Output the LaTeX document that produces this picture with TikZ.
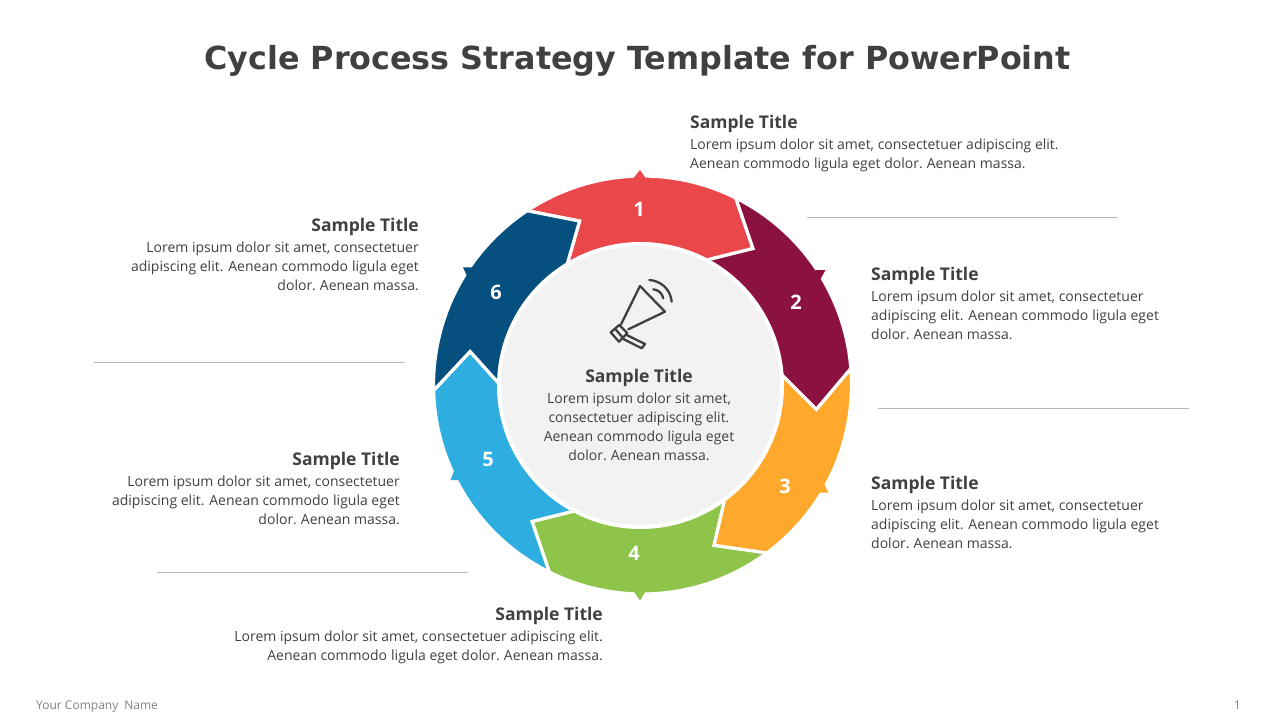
\documentclass[tikz,border=0pt]{standalone}
\usepackage{fontspec}
\setmainfont{Open Sans}
\newfontfamily\headfont{DejaVu Sans}
\definecolor{ink}{HTML}{404040}
\definecolor{segred}{HTML}{E9474A}
\definecolor{segwine}{HTML}{8B1240}
\definecolor{segorange}{HTML}{FFA92C}
\definecolor{seggreen}{HTML}{8DC449}
\definecolor{segblue}{HTML}{2EAEE0}
\definecolor{segnavy}{HTML}{05507F}
\newcommand\gp{\hspace{4pt}}
\newcommand\seg[3]{
    \begin{scope}[shift={(642.5,-385)}]
        \draw[segment,fill=#3] (63.5+#1:209) arc (63.5+#1:63.5+#2:209) -- (51+#2:175.6) -- (63.5+#2:139) arc (63.5+#2:63.5+#1:139) -- (51+#1:175.6) -- cycle;
    \end{scope}
}
\newcommand\tipmark[2]{
    \fill[#1] #2 -- cycle;
}
\begin{document}
\begin{tikzpicture}[
    x=1pt,y=1pt,
    segment/.style={draw=white,line width=3.2pt,line join=miter},
    number/.style={text=white,font=\fontsize{20}{24}\selectfont\bfseries},
    hub/.style={circle,fill=black!5,draw=white,line width=4pt,minimum size=283pt,inner sep=0},
    head/.style={text=ink,font=\fontsize{17.5}{22}\selectfont\bfseries,inner sep=0},
    body/.style={text=ink,font=\fontsize{14}{19}\selectfont,inner sep=0},
    rule/.style={draw=black!28,line width=0.8pt},
    icon/.style={draw=ink,line width=2.3pt,line join=round,line cap=round}
  ]
  \useasboundingbox (0,0) rectangle (1280,-720);

  % Title
  \node[text=ink,font=\fontsize{31.8}{40}\selectfont\headfont\bfseries,inner sep=0] (title) at (637.5,-61) {Cycle Process Strategy Template for PowerPoint};

  % Ring segments
  \seg{60}{0}{segred}
  \seg{0}{-59}{segwine}
  \seg{-59}{-117}{segorange}
  \seg{-117}{-180}{seggreen}
  \seg{-180}{-242}{segblue}
  \seg{-242}{-300}{segnavy}

  % Small marks on the outer edge
  \tipmark{segred}{(640,-170) -- (632,-180) -- (647,-180)}
  \tipmark{segwine}{(815,-270) -- (825.5,-270) -- (820,-280)}
  \tipmark{segorange}{(819,-492.7) -- (828.5,-492.7) -- (824,-484)}
  \tipmark{seggreen}{(640,-600.5) -- (632,-589) -- (647,-589)}
  \tipmark{segblue}{(450.5,-480) -- (461,-480) -- (454,-471)}
  \tipmark{segnavy}{(463,-267.3) -- (474,-267.3) -- (467,-276)}

  % Numbers
  \node[number] (n1) at (639,-209) {1};
  \node[number] (n2) at (796,-302) {2};
  \node[number] (n3) at (785,-486) {3};
  \node[number] (n4) at (634,-553) {4};
  \node[number] (n5) at (488,-459) {5};
  \node[number] (n6) at (496,-292) {6};

  % Centre
  \node[hub] (hub) at (640.5,-385.5) {};
  \node[head,anchor=center] (t0) at (639,-378) {Sample Title};
  \node[body,anchor=north,align=center] (b0) at (639,-393) {Lorem ipsum dolor sit amet,\\consectetuer adipiscing elit.\\Aenean commodo\gp ligula eget\\dolor.\gp Aenean massa.};

  % Megaphone
  \draw[icon] (640,-286) -- (665,-311.7) -- (628.3,-329.3);
  \draw[icon] (640,-286) -- (620.7,-325);
  \draw[icon] (610.7,-332.3) -- (619.3,-325) -- (627.3,-333) -- (619,-341.7) -- cycle;
  \draw[icon] (615,-328.7) -- (623.3,-338.3);
  \draw[icon] (626.7,-335) -- (645,-344) -- (641.7,-348.3) -- (623.3,-339);
  \draw[icon] (653.3,-289.3) to[bend left=35] (663.3,-298.3);
  \draw[icon] (649.3,-280) to[bend left=40] (671.7,-301.7);

  % Side texts
  \node[head,anchor=west] (t1) at (690,-124) {Sample Title};
  \node[body,anchor=north west,align=left] (b1) at (690,-139) {Lorem ipsum dolor sit amet, consectetuer adipiscing elit.\\Aenean commodo\gp ligula eget dolor.\gp Aenean massa.};
  \node[head,anchor=west] (t2) at (871,-276) {Sample Title};
  \node[body,anchor=north west,align=left] (b2) at (871,-291) {Lorem ipsum dolor sit amet, consectetuer\\adipiscing elit. Aenean commodo\gp ligula eget\\dolor.\gp Aenean massa.};
  \node[head,anchor=west] (t3) at (871,-485) {Sample Title};
  \node[body,anchor=north west,align=left] (b3) at (871,-500) {Lorem ipsum dolor sit amet, consectetuer\\adipiscing elit. Aenean commodo\gp ligula eget\\dolor.\gp Aenean massa.};
  \node[head,anchor=east] (t4) at (603,-616) {Sample Title};
  \node[body,anchor=north east,align=right] (b4) at (603,-631) {Lorem ipsum dolor sit amet, consectetuer adipiscing elit.\\Aenean commodo\gp ligula eget dolor.\gp Aenean massa.};
  \node[head,anchor=east] (t5) at (400,-461) {Sample Title};
  \node[body,anchor=north east,align=right] (b5) at (400,-476) {Lorem ipsum dolor sit amet, consectetuer\\adipiscing elit. Aenean commodo\gp ligula eget\\dolor.\gp Aenean massa.};
  \node[head,anchor=east] (t6) at (419,-227) {Sample Title};
  \node[body,anchor=north east,align=right] (b6) at (419,-242) {Lorem ipsum dolor sit amet, consectetuer\\adipiscing elit. Aenean commodo\gp ligula eget\\dolor.\gp Aenean massa.};

  % Separators
  \draw[rule] (807,-217) -- (1118,-217);
  \draw[rule] (878,-408) -- (1189,-408);
  \draw[rule] (94,-362) -- (405,-362);
  \draw[rule] (157,-572) -- (468,-572);

  % Footer
  \node[text=black!50,font=\fontsize{12}{14}\selectfont,anchor=west,inner sep=0] (company) at (36,-706.5) {Your Company\hspace{6pt}Name};
  \node[text=black!50,font=\fontsize{12}{14}\selectfont,anchor=east,inner sep=0] (page) at (1241,-705) {1};
\end{tikzpicture}
\end{document}
